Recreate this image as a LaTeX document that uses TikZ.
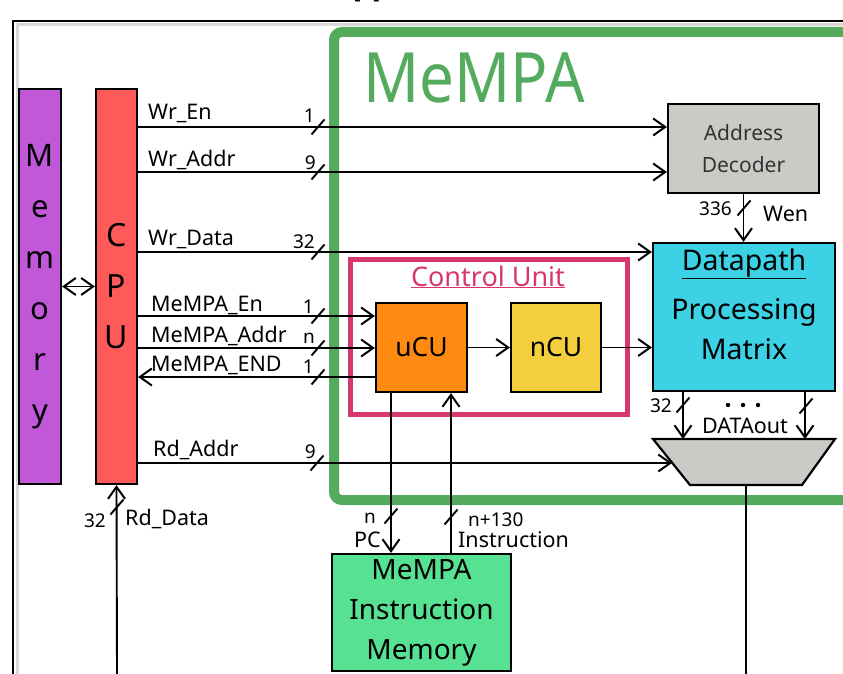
\documentclass[tikz,border=0pt]{standalone}
\usepackage{fontspec}
\setmainfont{Noto Sans}
\usetikzlibrary{arrows.meta,calc}

\definecolor{memclr}{HTML}{C158DA}
\definecolor{cpuclr}{HTML}{FF5A5A}
\definecolor{mempagreen}{HTML}{55AB5D}
\definecolor{cupink}{HTML}{D6386E}
\definecolor{ucuclr}{HTML}{FF8A12}
\definecolor{ncuclr}{HTML}{F3CF3E}
\definecolor{dpclr}{HTML}{3DD1E6}
\definecolor{greyblk}{HTML}{CCCAC6}
\definecolor{imclr}{HTML}{57E192}
\definecolor{frameshade}{HTML}{D9D9D9}

\newcommand\fsz[2]{\fontsize{#1}{#2}\selectfont}

\begin{document}
\begin{tikzpicture}[x=1pt,y=-1pt,
  wire/.style={line width=1.9pt},
  barb/.tip={Straight Barb[length=12pt,width=17pt,line width=2pt]},
  arr/.style={wire,-barb},
  blk/.style={draw=black,line width=2.2pt,inner sep=0pt,align=center},
  lbl/.style={inner sep=0pt,font=\fsz{21.5}{26}},
  num/.style={inner sep=0pt,font=\fsz{19}{20}},
  busslash/.pic={\draw[line width=1.9pt] (-6.5,7.5) -- (6.5,-7.5);}
]
\useasboundingbox (0,0) rectangle (843,674);
\clip (0,0) rectangle (843,674);

% outer slide frame
\draw[frameshade,line width=3pt] (17,674) -- (17,25) -- (843,25);
\draw[black,line width=2.5pt] (13,674) -- (13,21) -- (843,21);
\node[inner sep=0pt,anchor=base,font=\bfseries\fsz{22}{24}] (ref) at (367,-1) {[1]};

% MeMPA accelerator boundary
\draw[mempagreen,line width=10pt,rounded corners=8pt] (334,32) rectangle (900,500);
\node[inner sep=0pt,anchor=base west,text=mempagreen,font=\fsz{62}{62}] (title) at (363,103) {\scalebox{1}[1.12]{MeMPA}};

% host side
\node[blk,fill=memclr,minimum width=42pt,minimum height=395pt,font=\fsz{31}{51}] (mem) at (40,286.5) {M\\e\\m\\o\\r\\y};
\node[blk,fill=cpuclr,minimum width=41pt,minimum height=395pt,font=\fsz{32}{51}] (cpu) at (116.5,286.5) {C\\P\\U};
\draw[wire,barb-barb] (mem) -- (cpu);

% accelerator blocks
\node[blk,fill=greyblk,minimum width=151pt,minimum height=89pt,text=black!80,font=\fsz{21}{32}] (adec) at (743.5,148.5) {Address\\Decoder};
\node[blk,fill=dpclr,minimum width=182pt,minimum height=148pt] (dp) at (744,317) {};
\node[inner sep=0pt,align=center,font=\fsz{28.5}{40}] (dptext) at ($(dp.center)+(0,-13)$) {\underline{Datapath}\\[9pt]Processing\\Matrix};
\draw[cupink,line width=5pt] (350.5,259.5) rectangle (627.5,414.5);
\node[inner sep=0pt,anchor=base,text=cupink,font=\fsz{27}{30}] (cutitle) at (488,286) {\underline{Control Unit}};
\node[blk,fill=ucuclr,minimum width=91pt,minimum height=89pt,font=\fsz{26.5}{30}] (ucu) at (421.5,347.5) {uCU};
\node[blk,fill=ncuclr,minimum width=90pt,minimum height=89pt,font=\fsz{26.5}{30}] (ncu) at (556,347.5) {nCU};
\node[blk,fill=imclr,minimum width=179pt,minimum height=117pt,font=\fsz{28}{40}] (im) at (421.5,612.5) {MeMPA\\Instruction\\Memory};

% output multiplexer
\coordinate (mxa) at (653,439);
\coordinate (mxb) at (835,439);
\coordinate (mxc) at (802,485);
\coordinate (mxd) at (690,485);
\draw[line width=2.2pt,fill=greyblk] (mxa) -- (mxb) -- (mxc) -- (mxd) -- cycle;
\coordinate (mxin) at (672,463);
\coordinate (mxout) at (746,485);
\coordinate (mxl) at (683,439);
\coordinate (mxr) at (805,439);
\coordinate (bottomout) at (746,674);

% wire levels
\coordinate (yWrEn) at (0,127);
\coordinate (yWrAddr) at (0,172);
\coordinate (yWrData) at (0,252);
\coordinate (yEn) at (0,316);
\coordinate (yAddr) at (0,348);
\coordinate (yEnd) at (0,377);
\coordinate (yRdAddr) at (0,463);
\coordinate (rdsrc) at (117,674);

% CPU write interface
\draw[arr] (cpu.east |- yWrEn) -- (adec.west |- yWrEn);
\draw[arr] (cpu.east |- yWrAddr) -- (adec.west |- yWrAddr);
\draw[arr] (cpu.east |- yWrData) -- (dp.west |- yWrData);
\node[lbl,anchor=base west] (lwren) at (148,120) {Wr\_En};
\node[lbl,anchor=base west] (lwraddr) at (148,166) {Wr\_Addr};
\node[lbl,anchor=base west] (lwrdata) at (148,245) {Wr\_Data};
\pic at (318,127) {busslash};
\pic at (318,172) {busslash};
\pic at (318,252) {busslash};
\node[num,anchor=base east] at (315,123) {1};
\node[num,anchor=base east] at (316,169) {9};
\node[num,anchor=base east] at (315,248) {32};

% CPU control interface
\draw[arr] (cpu.east |- yEn) -- (ucu.west |- yEn);
\draw[arr] (cpu.east |- yAddr) -- (ucu.west |- yAddr);
\draw[arr] (ucu.west |- yEnd) -- (cpu.east |- yEnd);
\node[lbl,anchor=base west] (len) at (151,311) {MeMPA\_En};
\node[lbl,anchor=base west] (laddr) at (151,342) {MeMPA\_Addr};
\node[lbl,anchor=base west] (lend) at (151,371) {MeMPA\_END};
\pic at (318,316) {busslash};
\pic at (318,348) {busslash};
\pic at (318,377) {busslash};
\node[num,anchor=base east] at (314,313) {1};
\node[num,anchor=base east] at (315,343) {n};
\node[num,anchor=base east] at (314,373) {1};

% read path
\draw[arr] (cpu.east |- yRdAddr) -- (mxin);
\node[lbl,anchor=base west] (lrdaddr) at (153,456) {Rd\_Addr};
\pic at (317,463) {busslash};
\node[num,anchor=base east] at (316,458) {9};
\draw[arr] (rdsrc) -- (cpu.south);
\pic at (117,507) {busslash};
\node[num,anchor=base east] at (106,527) {32};
\node[lbl,anchor=base west] (lrddata) at (125,525) {Rd\_Data};

% control unit internals
\draw[arr] (ucu) -- (ncu);
\draw[arr] (ncu.east) -- (dp.west |- ncu.east);

% decoder to datapath
\draw[arr] (adec.south) -- (dp.north -| adec.south);
\pic at (744,208) {busslash};
\node[num,anchor=base east] at (732,215) {336};
\node[lbl,anchor=base west] (lwen) at (763,221) {Wen};

% datapath outputs to multiplexer
\draw[arr] (dp.south -| mxl) -- (mxl);
\draw[arr] (dp.south -| mxr) -- (mxr);
\pic at (683,405) {busslash};
\pic at (806,406) {busslash};
\node[num,anchor=base east] at (672,412) {32};
\foreach \dx in {728,743,758} \fill (\dx,405) circle (2.2pt);
\node[lbl,anchor=base] (ldout) at (745,433) {DATAout};
\draw[wire] (mxout) -- (bottomout);

% instruction memory interface
\draw[arr] (ucu.south -| 391,0) -- (im.north -| 391,0);
\draw[arr] (im.north -| 451,0) -- (ucu.south -| 451,0);
\pic at (391,516) {busslash};
\pic at (451,517) {busslash};
\node[num,anchor=base east] at (376,523) {n};
\node[lbl,anchor=base east] (lpc) at (381,547) {PC};
\node[num,anchor=base west] at (468,526) {n+130};
\node[lbl,anchor=base west] (linstr) at (458,547) {Instruction};
\end{tikzpicture}
\end{document}
